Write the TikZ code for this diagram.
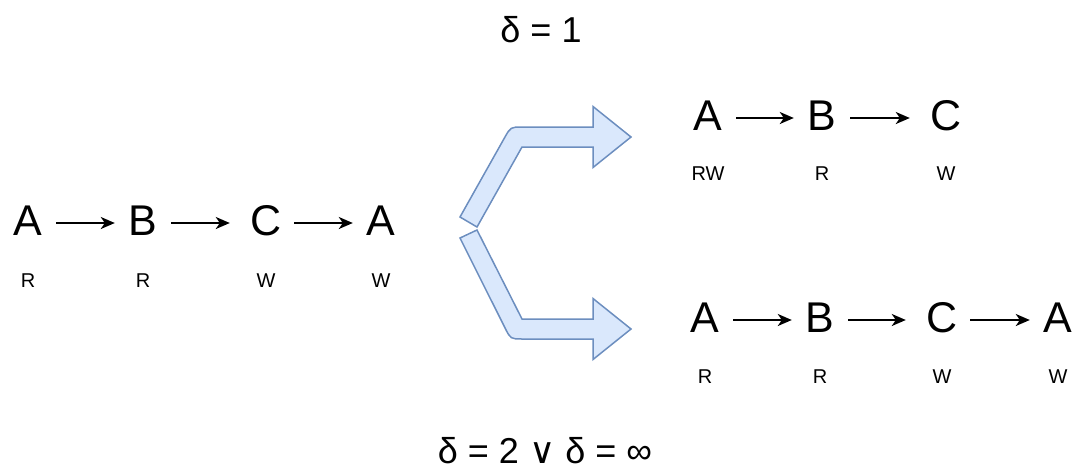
\documentclass[tikz,border=0pt]{standalone}
\usepackage{fontspec}
\setmainfont{Liberation Sans}
\newfontfamily\symfont{DejaVu Sans}
\usetikzlibrary{arrows.meta}
\definecolor{flexfill}{HTML}{DAE8FC}
\definecolor{flexdraw}{HTML}{6C8EBF}
\newcommand\widegaps{\spaceskip=10pt\relax}
\begin{document}
\begin{tikzpicture}[x=1pt,y=-1pt,
  letter/.style={inner sep=0pt, minimum width=56pt, text height=30pt, text depth=6pt,
                 font=\fontsize{43}{43}\selectfont},
  tag/.style={inner sep=0pt, anchor=base, font=\fontsize{20}{20}\selectfont},
  formula/.style={inner sep=0pt, anchor=base, font=\fontsize{36}{36}\selectfont,
                  execute at begin node=\widegaps},
  link/.style={-{Stealth[length=14pt,width=12pt,inset=4pt]}, line width=1.8pt},
  intoC/.style={link, shorten >=8pt},
  flex/.style={fill=flexfill, draw=flexdraw, line width=1.5pt, line join=miter}
]
\useasboundingbox (0,0) rectangle (1080,472);

% source chain
\node[letter] (a1) at (28,223) {A};
\node[letter] (b1) at (143,223) {B};
\node[letter] (c1) at (266,223) {C};
\node[letter] (e1) at (381,223) {A};
\node[tag] (ta1) at (28,287) {R};
\node[tag] (tb1) at (143,287) {R};
\node[tag] (tc1) at (266,287) {W};
\node[tag] (te1) at (381,287) {W};
\draw[link] (a1.east) -- (b1.west);
\draw[intoC] (b1.east) -- (c1.west);
\draw[link] (c1.east) -- (e1.west);

% delta = 1
\node[letter] (a2) at (708,118) {A};
\node[letter] (b2) at (822,118) {B};
\node[letter] (c2) at (946,118) {C};
\node[tag] (ta2) at (708,180) {RW};
\node[tag] (tb2) at (822,180) {R};
\node[tag] (tc2) at (946,180) {W};
\draw[link] (a2.east) -- (b2.west);
\draw[intoC] (b2.east) -- (c2.west);

% delta = 2 or infinity
\node[letter] (a3) at (705,320) {A};
\node[letter] (b3) at (820,320) {B};
\node[letter] (c3) at (942,320) {C};
\node[letter] (e3) at (1058,320) {A};
\node[tag] (ta3) at (705,383) {R};
\node[tag] (tb3) at (820,383) {R};
\node[tag] (tc3) at (942,383) {W};
\node[tag] (te3) at (1058,383) {W};
\draw[link] (a3.east) -- (b3.west);
\draw[intoC] (b3.east) -- (c3.west);
\draw[link] (c3.east) -- (e3.west);

% conditions
\node[formula] (d1) at (541,42) {δ = 1};
\node[formula] (d2) at (545,463) {δ = 2 {\symfont ∨} δ = ∞};

% branching flex arrows
\draw[flex] (460,217) -- (504.7,137.5) .. controls (510.6,127) .. (522.6,127)
  -- (593,127) -- (593,106.5) -- (631,137) -- (593,167.5) -- (593,147)
  -- (522,147) -- (477,227) -- cycle;
\draw[flex] (477,230) -- (522,319) -- (593,319) -- (593,298.5) -- (631,329)
  -- (593,359.5) -- (593,339) -- (522.6,339) .. controls (510.6,339) .. (505.2,328.3)
  -- (460,238) -- cycle;
\end{tikzpicture}
\end{document}
